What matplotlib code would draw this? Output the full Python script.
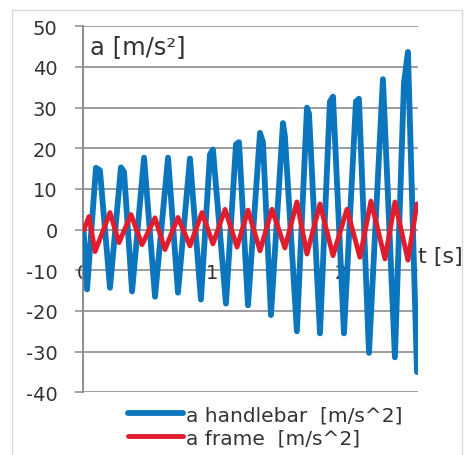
import matplotlib
matplotlib.use("Agg")
import matplotlib.pyplot as plt
from matplotlib.patches import Rectangle

# ---- data ----
t_handlebar = [0.002, 0.029, 0.098, 0.129, 0.207, 0.292, 0.316, 0.378, 0.471, 0.556,
               0.657, 0.734, 0.827, 0.912, 0.982, 1.005, 1.106, 1.184, 1.207, 1.277,
               1.370, 1.393, 1.455, 1.548, 1.563, 1.656, 1.734, 1.750, 1.835, 1.912,
               1.936, 2.021, 2.114, 2.137, 2.215, 2.323, 2.416, 2.486, 2.517, 2.587]
a_handlebar = [0, -14.7, 15.2, 14.6, -14.3, 15.3, 14.2, -15.2, 17.7, -16.5,
               17.7, -15.5, 17.5, -17.2, 18.5, 19.7, -18.2, 21.0, 21.5, -18.6,
               23.8, 21.5, -21.0, 26.2, 23.0, -25.0, 30.0, 28.5, -25.5, 31.5,
               32.7, -25.5, 31.5, 32.2, -30.3, 37.0, -31.4, 36.0, 43.7, -35.0]

t_frame = [0.005, 0.044, 0.091, 0.207, 0.277, 0.370, 0.455, 0.556, 0.633, 0.734,
           0.827, 0.920, 1.005, 1.099, 1.192, 1.277, 1.370, 1.463, 1.563, 1.656,
           1.734, 1.835, 1.936, 2.044, 2.145, 2.230, 2.339, 2.416, 2.517, 2.587]
a_frame = [0, 3.2, -5.4, 4.2, -3.2, 3.7, -3.7, 2.9, -4.9, 3.0,
           -4.0, 4.2, -3.5, 5.0, -4.3, 4.8, -5.2, 5.0, -4.5, 6.8,
           -6.0, 6.3, -6.4, 5.0, -6.8, 7.0, -7.2, 6.8, -7.5, 6.3]

y_ticks = [-40, -30, -20, -10, 0, 10, 20, 30, 40, 50]
x_labels = ["0", "1", "2"]
x_label_pos = [0, 1, 2]

series_names = ["a handlebar  [m/s^2]", "a frame  [m/s^2]"]
y_title = "a [m/s²]"
x_title = "t [s]"

BLUE = "#0b76bd"
RED = "#e11d2d"
GRID = "#8c8c8c"
TXT = "#333333"

plt.rcParams["font.family"] = ["DejaVu Sans"]

W, H = 472, 456
fig = plt.figure(figsize=(W / 100, H / 100), dpi=100)
fig.patch.set_facecolor("white")

# outer chart frame
fig.patches.append(Rectangle((12 / W, -0.2), (462 - 12) / W, 1 - 11 / H + 0.2,
                             transform=fig.transFigure, fill=False,
                             edgecolor="#d9d9d9", linewidth=1.0))

left, right = 83.3 / W, 418 / W
top, bottom = 1 - 27.3 / H, 1 - 393.3 / H
ax = fig.add_axes([left, bottom, right - left, top - bottom])

l1, = ax.plot(t_handlebar, a_handlebar, color=BLUE, lw=4.2, solid_joinstyle="round",
              solid_capstyle="round", zorder=3)
l2, = ax.plot(t_frame, a_frame, color=RED, lw=3.5, solid_joinstyle="round",
              solid_capstyle="round", zorder=4)

ax.set_xlim(0, 2.595)
ax.set_ylim(-40, 50)
ax.set_yticks(y_ticks)
ax.set_yticklabels([str(v) for v in y_ticks], fontsize=14, color=TXT)
ax.tick_params(axis="y", length=5.5, width=1.1, color=GRID, pad=13)
ax.set_xticks([])
for yv in y_ticks:
    ax.axhline(yv, color=GRID, lw=1.2, zorder=1)
for s in ["top", "right", "bottom"]:
    ax.spines[s].set_visible(False)
ax.spines["left"].set_color(GRID)
ax.spines["left"].set_linewidth(1.4)

for pos, lab in zip(x_label_pos, x_labels):
    ax.text(pos, -10.6, lab, ha="center", va="center", fontsize=14, color=TXT,
            zorder=2)

ax.text(0.05, 45.1, y_title, ha="left", va="center", fontsize=17.5, color=TXT)
ax.text(2.598, -6.5, x_title, ha="left", va="center", fontsize=16, color=TXT,
        clip_on=False)

leg = ax.legend([l1, l2], series_names, loc="upper left",
                bbox_to_anchor=(118 / W, 1 - 396 / H), bbox_transform=fig.transFigure,
                frameon=False, fontsize=14.5, handlelength=2.75, handletextpad=0.12,
                borderpad=0, labelspacing=0.2)
for t in leg.get_texts():
    t.set_color(TXT)

fig.savefig("out.png", dpi=100, facecolor="white")
